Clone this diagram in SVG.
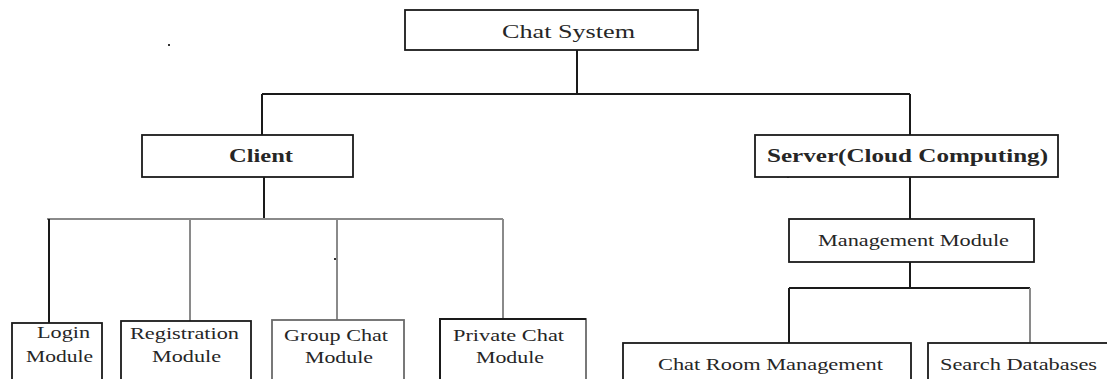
<svg xmlns="http://www.w3.org/2000/svg" width="1107" height="379" viewBox="0 0 1107 379">
  <style>
    .box { fill: #ffffff; stroke: #1a1a1a; stroke-width: 1.8; }
    .box-light { fill: #ffffff; stroke: #6a6a6a; stroke-width: 1.8; }
    .dark { stroke: #1a1a1a; stroke-width: 2; fill: none; }
    .light { stroke: #8a8a8a; stroke-width: 2; fill: none; }
    text { fill: #262626; }
    .title { font-size: 19px; }
    .bold { font-size: 18px; font-weight: bold; }
    .label { font-size: 16px; }
  </style>
  <rect width="1107" height="379" fill="#ffffff"/>

  <!-- connectors -->
  <g id="connectors">
    <!-- root to client / server -->
    <path class="dark" d="M577 50 V94 M262 94 H910 M262 94 V135 M910 94 V135"/>
    <!-- client to its modules -->
    <path class="dark" d="M264 177 V219"/>
    <path class="light" d="M47 219 H503"/>
    <path class="dark" d="M49 219 V323"/>
    <path class="light" d="M190 219 V321 M337 219 V320 M503 219 V319"/>
    <!-- server to management module and its children -->
    <path class="dark" d="M910 177 V219 M910 262 V288 M789 288 H1030 M789 288 V343"/>
    <path class="light" d="M1030 288 V343"/>
    <!-- stray specks -->
    <rect x="168" y="44" width="2" height="2" fill="#333333"/>
    <rect x="334" y="258" width="2" height="2" fill="#333333"/>
    <rect x="787" y="175" width="2" height="3" fill="#333333"/>
  </g>

  <g font-family="'Liberation Serif', 'Times New Roman', serif">
    <g id="chat-system">
      <rect class="box" x="405" y="10" width="293" height="40"/>
      <text class="title" x="502" y="38" textLength="133" lengthAdjust="spacingAndGlyphs">Chat System</text>
    </g>

    <g id="client">
      <rect class="box" x="142" y="135" width="211" height="42"/>
      <text class="bold" x="229" y="162" textLength="64" lengthAdjust="spacingAndGlyphs">Client</text>
    </g>

    <g id="server">
      <rect class="box" x="755" y="135" width="303" height="42"/>
      <text class="bold" x="767" y="162" textLength="281" lengthAdjust="spacingAndGlyphs">Server(Cloud Computing)</text>
    </g>

    <g id="login-module">
      <rect class="box" x="12" y="323" width="90" height="70"/>
      <text class="label" x="37" y="338" textLength="53" lengthAdjust="spacingAndGlyphs">Login</text>
      <text class="label" x="26" y="362" textLength="67" lengthAdjust="spacingAndGlyphs">Module</text>
    </g>

    <g id="registration-module">
      <rect class="box" x="121" y="321" width="130" height="72"/>
      <text class="label" x="130" y="339" textLength="109" lengthAdjust="spacingAndGlyphs">Registration</text>
      <text class="label" x="152" y="362" textLength="69" lengthAdjust="spacingAndGlyphs">Module</text>
    </g>

    <g id="group-chat-module">
      <rect class="box-light" x="272" y="320" width="132" height="73"/>
      <text class="label" x="284" y="341" textLength="104" lengthAdjust="spacingAndGlyphs">Group Chat</text>
      <text class="label" x="305" y="363" textLength="68" lengthAdjust="spacingAndGlyphs">Module</text>
    </g>

    <g id="private-chat-module">
      <rect class="box-light" x="440" y="319" width="146" height="74"/>
      <path class="dark" d="M440 318 V393 M440 319 H586"/>
      <text class="label" x="453" y="341" textLength="111" lengthAdjust="spacingAndGlyphs">Private Chat</text>
      <text class="label" x="476" y="363" textLength="68" lengthAdjust="spacingAndGlyphs">Module</text>
    </g>

    <g id="management-module">
      <rect class="box" x="789" y="219" width="245" height="43"/>
      <text class="label" x="818" y="246" textLength="191" lengthAdjust="spacingAndGlyphs">Management Module</text>
    </g>

    <g id="chat-room-management">
      <rect class="box" x="623" y="343" width="288" height="50"/>
      <text class="label" x="658" y="370" textLength="225" lengthAdjust="spacingAndGlyphs">Chat Room Management</text>
    </g>

    <g id="search-databases">
      <rect class="box" x="928" y="343" width="190" height="50"/>
      <text class="label" x="940" y="370" textLength="157" lengthAdjust="spacingAndGlyphs">Search Databases</text>
    </g>
  </g>
</svg>
